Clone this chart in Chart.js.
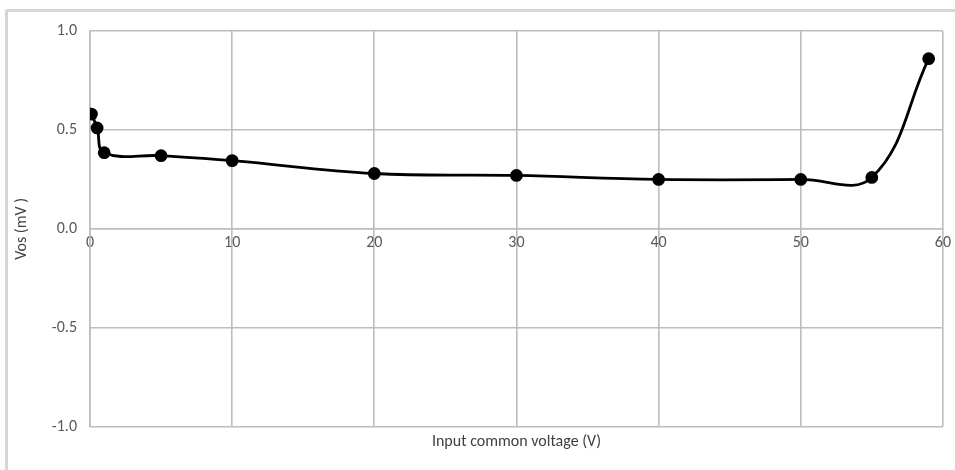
<!DOCTYPE html>
<html>
<head>
<meta charset="utf-8">
<script src="https://cdn.jsdelivr.net/npm/chart.js@4"></script>
<style>
    body { margin: 0; background: #fff; }
    #wrap {
        position: absolute; left: 0; top: 0; width: 955px; height: 470px;
    }
    #frame {
        position: absolute; left: 5px; top: 9px; width: 960px; height: 460px;
        border-left: 3px solid #d6d6d6; border-top: 3px solid #d6d6d6;
        border-top-left-radius: 3px;
    }
    canvas { position: absolute; left: 0; top: 0; }
</style>
</head>
<body>
<div id="wrap">
    <div id="frame"></div>
    <canvas id="vos_chart" width="955" height="470"></canvas>
</div>
<script>
// input common voltage (V) and offset voltage (mV)
const voltages = [0.1, 0.5, 1, 5, 10, 20, 30, 40, 50, 55, 59];
const vosValues = [0.58, 0.51, 0.385, 0.37, 0.345, 0.28, 0.27, 0.25, 0.25, 0.26, 0.86];
const xTicks = [0, 10, 20, 30, 40, 50, 60];
const yTicks = [-1.0, -0.5, 0.0, 0.5, 1.0];

const fontFamily = "Carlito, 'Liberation Sans Narrow', 'Open Sans', sans-serif";
const gridColor = "#bdbdbd";

const points = voltages.map((v, i) => ({ x: v, y: vosValues[i] }));

new Chart(document.getElementById("vos_chart"), {
    type: "line",
    data: {
        datasets: [{
            data: points,
            borderColor: "#000",
            backgroundColor: "#000",
            borderWidth: 2.8,
            pointRadius: 5,
            pointBackgroundColor: "#000",
            tension: 0.4,
            fill: false,
        }],
    },
    options: {
        responsive: false,
        animation: false,
        layout: { padding: { left: 8, right: 12, top: 31, bottom: 0 } },
        plugins: {
            legend: { display: false },
            tooltip: { enabled: false },
            title: {
                display: true,
                position: "bottom",
                fullSize: false,
                text: "Input common voltage (V)",
                color: "#404040",
                font: { family: fontFamily, size: 16, weight: "normal" },
                padding: { top: 6, bottom: 18 },
            },
        },
        scales: {
            x: {
                type: "linear",
                position: { y: 0 },
                min: 0,
                max: 60,
                afterBuildTicks: (axis) => { axis.ticks = xTicks.map((v) => ({ value: v })); },
                grid: { color: gridColor, lineWidth: 1.6, drawTicks: false },
                border: { color: gridColor, width: 1.6 },
                ticks: {
                    color: "#595959",
                    font: { family: fontFamily, size: 16 },
                    padding: 4,
                    maxRotation: 0,
                },
            },
            y: {
                min: -1,
                max: 1,
                afterBuildTicks: (axis) => { axis.ticks = yTicks.map((v) => ({ value: v })); },
                afterFit: (axis) => { axis.width = 82; },
                grid: { color: gridColor, lineWidth: 1.6, drawTicks: false },
                border: { color: gridColor, width: 1.6 },
                ticks: {
                    color: "#595959",
                    font: { family: fontFamily, size: 16 },
                    padding: 13,
                    callback: (v) => v.toFixed(1),
                },
                title: {
                    display: true,
                    text: "Vos (mV )",
                    color: "#404040",
                    font: { family: fontFamily, size: 16 },
                    padding: { top: 4, bottom: 4 },
                },
            },
        },
    },
});
</script>
</body>
</html>
